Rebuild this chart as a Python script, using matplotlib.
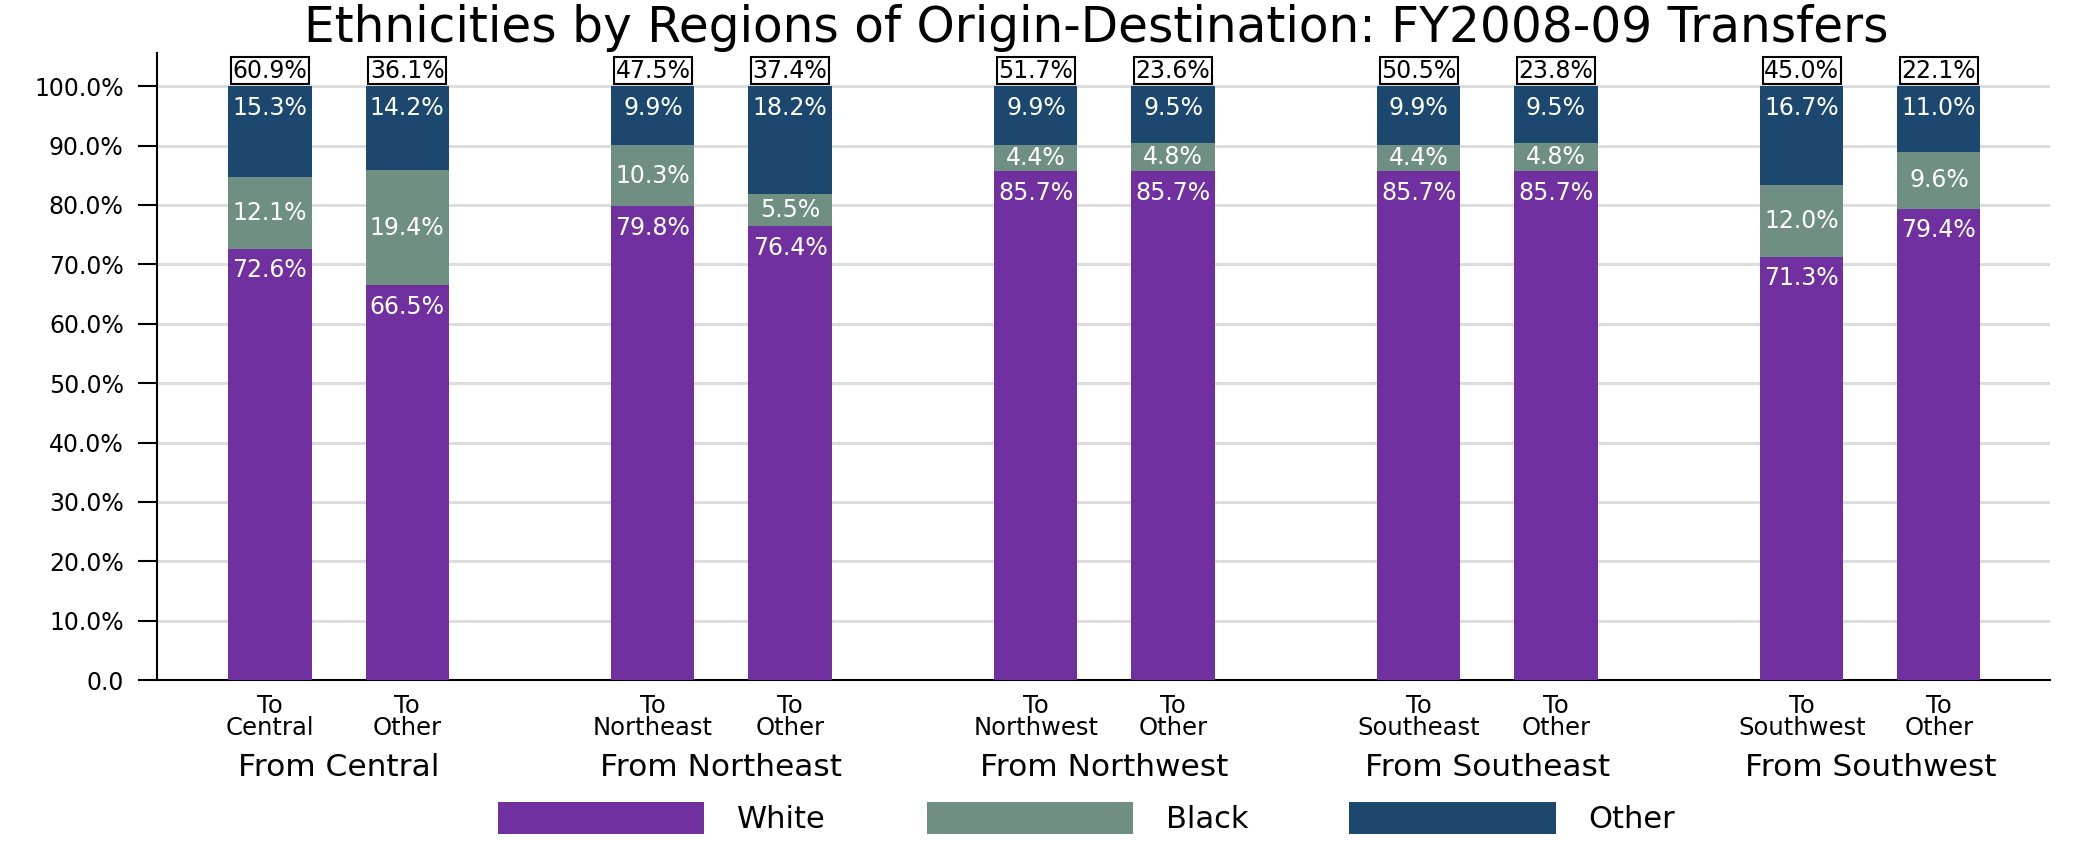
import numpy as np
import matplotlib
matplotlib.use("Agg")
import matplotlib.pyplot as plt

# data
origins = ["Central", "Northeast", "Northwest", "Southeast", "Southwest"]
destinations = ["Central", "Other", "Northeast", "Other", "Northwest", "Other",
                "Southeast", "Other", "Southwest", "Other"]
white = [72.6, 66.5, 79.8, 76.4, 85.7, 85.7, 85.7, 85.7, 71.3, 79.4]
black = [12.1, 19.4, 10.3, 5.5, 4.4, 4.8, 4.4, 4.8, 12.0, 9.6]
other = [15.3, 14.2, 9.9, 18.2, 9.9, 9.5, 9.9, 9.5, 16.7, 11.0]
share = [60.9, 36.1, 47.5, 37.4, 51.7, 23.6, 50.5, 23.8, 45.0, 22.1]
y_ticks = [0, 10, 20, 30, 40, 50, 60, 70, 80, 90, 100]
y_tick_labels = ["0.0", "10.0%", "20.0%", "30.0%", "40.0%", "50.0%",
                 "60.0%", "70.0%", "80.0%", "90.0%", "100.0%"]

colors = {"White": "#70309F", "Black": "#6E8F82", "Other": "#1C4870"}

plt.rcParams["font.family"] = ["DejaVu Sans"]

fig = plt.figure(figsize=(20.84, 8.41), dpi=100)
ax = fig.add_axes([157 / 2084, 1 - 680 / 841, (2050 - 157) / 2084, (680 - 53) / 841])

n = len(white)
offset = 0.179
x = np.array([i // 2 + (-offset if i % 2 == 0 else offset) for i in range(n)])
width = 0.217

white = np.array(white)
black = np.array(black)
other = np.array(other)

b1 = ax.bar(x, white, width, color=colors["White"], label="White", zorder=3)
b2 = ax.bar(x, black, width, bottom=white, color=colors["Black"], label="Black", zorder=3)
b3 = ax.bar(x, other, width, bottom=white + black, color=colors["Other"], label="Other", zorder=3)

lab_kw = dict(ha="center", va="center", color="white", fontsize=17, zorder=4)
for i in range(n):
    ax.text(x[i], white[i] - 3.6, f"{white[i]:.1f}%", **lab_kw)
    ax.text(x[i], white[i] + black[i] / 2, f"{black[i]:.1f}%", **lab_kw)
    ax.text(x[i], white[i] + black[i] + other[i] - 3.7, f"{other[i]:.1f}%", **lab_kw)
    ax.text(x[i], 102.6, f"{share[i]:.1f}%", ha="center", va="center", fontsize=17,
            bbox=dict(boxstyle="square,pad=0.06", fc="white", ec="black", lw=1.5), zorder=5)

ax.set_xlim(-0.474, 4.469)
ax.set_ylim(0, 105.6)
ax.set_yticks(y_ticks, y_tick_labels)
ax.set_xticks(x, ["To\n" + d for d in destinations])
ax.tick_params(axis="y", length=14, width=1.5, pad=10, labelsize=17)
ax.tick_params(axis="x", length=0, pad=10, labelsize=17.5)
for lbl in ax.get_xticklabels():
    lbl.set_linespacing(0.9)

ax.yaxis.grid(True, color="#DDDDDD", linewidth=2.2, zorder=0)
ax.set_axisbelow(True)
for s in ["top", "right"]:
    ax.spines[s].set_visible(False)
ax.spines["left"].set_linewidth(1.5)
ax.spines["bottom"].set_linewidth(1.5)

for g, o in enumerate(origins):
    ax.text(g, -0.14, "From " + o, transform=ax.get_xaxis_transform(),
            ha="center", va="center", fontsize=22.5)

fig.text(1096 / 2084, 1 - 28 / 841, "Ethnicities by Regions of Origin-Destination: FY2008-09 Transfers",
         ha="center", va="center", fontsize=35)

fig.legend(handles=[b1, b2, b3], labels=["White", "Black", "Other"],
           loc="lower left", bbox_to_anchor=(498 / 2084, 0.008), ncol=3, frameon=False,
           fontsize=22, handlelength=6.75, handleheight=1.2, handletextpad=1.08,
           columnspacing=3.3, borderpad=0, borderaxespad=0)

fig.savefig("out.png", dpi=100)
